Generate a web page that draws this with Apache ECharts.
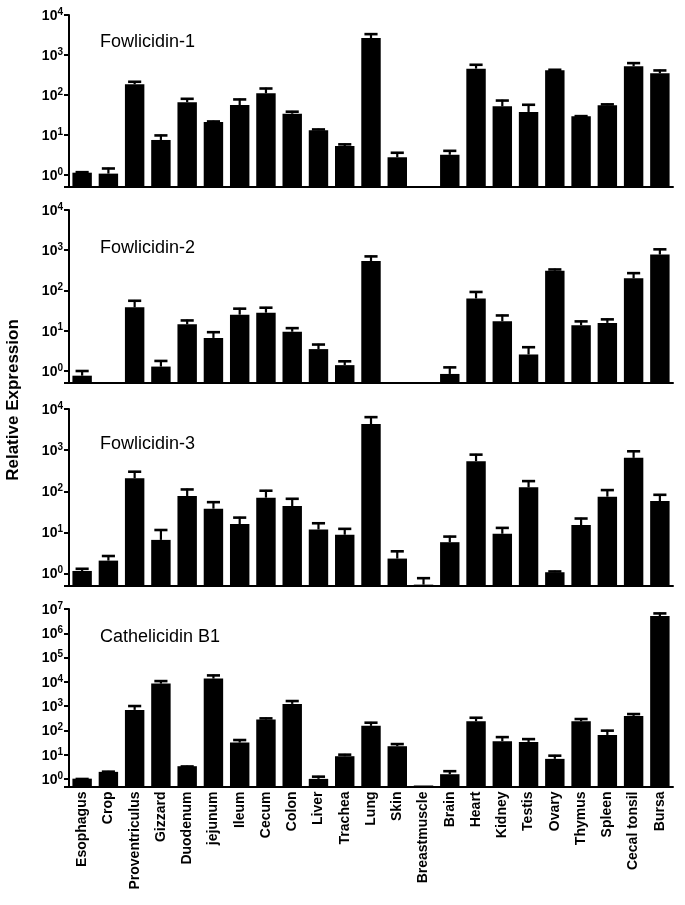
<!DOCTYPE html>
<html><head><meta charset="utf-8">
<script src="https://cdn.jsdelivr.net/npm/echarts/dist/echarts.min.js"></script>
<style>html,body{margin:0;padding:0;background:#fff}#c{width:685px;height:905px}</style>
</head><body><div id="c"></div>
<script>
// ---- data ----
const categories = ['Esophagus','Crop','Proventriculus','Gizzard','Duodenum','jejunum','Ileum','Cecum','Colon','Liver','Trachea','Lung','Skin','Breastmuscle','Brain','Heart','Kidney','Testis','Ovary','Thymus','Spleen','Cecal tonsil','Bursa'];
const panelTitles = ['Fowlicidin-1','Fowlicidin-2','Fowlicidin-3','Cathelicidin B1'];
const yAxisTitle = 'Relative Expression';

// mean values
const fowlicidin1 = [1.14,1.08,185,7.5,66,21,56,110,34,13.1,5.3,2660,2.77,null,3.2,455,52,37.6,414,29.3,55,521,348];
const fowlicidin2 = [0.76,null,38,1.28,14.4,6.6,25,28,9.4,3.48,1.39,541,null,null,0.84,63,17.1,2.56,310,13.6,15.6,200,779];
const fowlicidin3 = [1.16,2.07,207,6.6,77,37.8,16,70,43.9,11.8,8.8,4300,2.32,0.54,5.8,540,9.3,125,1.08,15.1,74,650,58];
const cathelicidinB1 = [1.05,2.0,708,8540,3.42,13700,32,283,1250,1.03,8.8,156,22.7,0.55,1.6,241,36.5,34,6.85,241,66,400,5100000];
// upper end of error bars (mean + SEM)
const fowlicidin1Upper = [1.23,1.52,224,10.2,84,22.8,81,152,40,14.4,6.1,3480,3.76,null,4.2,596,76,59.6,447,31,61,656,430];
const fowlicidin2Upper = [1.04,null,58,1.85,18.8,9.6,36.9,39,12.1,4.73,1.81,735,null,null,1.28,96,25,4.06,348,17.8,20,282,1101];
const fowlicidin3Upper = [1.37,2.8,313,12,116,57,24,108,68.8,17.5,12.8,6630,3.64,0.81,8.3,814,13.5,185,1.18,22.8,112,982,86];
const cathelicidinB1Upper = [1.1,2.2,1100,11700,3.6,20000,44,342,1766,1.37,11,227,30,null,2.3,363,58,48,10,321,107,515,7100000];

const yMax = [1e4, 1e4, 1e4, 1e7];
const yMin = 0.5;

const means = [fowlicidin1, fowlicidin2, fowlicidin3, cathelicidinB1];
const uppers = [fowlicidin1Upper, fowlicidin2Upper, fowlicidin3Upper, cathelicidinB1Upper];

// ---- layout ----
const FONT = '"Liberation Sans", Arial, Helvetica, sans-serif';
const grids = [
  {left: 69, right: 12, top: 15, height: 172},
  {left: 69, right: 12, top: 210, height: 173},
  {left: 69, right: 12, top: 409, height: 177},
  {left: 69, right: 12, top: 609, height: 177.5}
];
const titleTops = [33, 239, 435, 628];

function renderBar(params, api) {
  const v = api.value(1), u = api.value(2);
  const cs = params.coordSys;
  const base = cs.y + cs.height;
  const band = api.size([1, 1])[0];
  const w = band * 0.74;
  const children = [];
  if (!isNaN(v) && v > 0) {
    const p = api.coord([api.value(0), v]);
    children.push({type: 'rect', shape: {x: p[0] - w / 2, y: p[1], width: w, height: Math.max(0, base - p[1])}, style: {fill: '#000'}});
    if (!isNaN(u) && u > v) {
      const q = api.coord([api.value(0), u]);
      children.push({type: 'rect', shape: {x: p[0] - 1.1, y: q[1], width: 2.2, height: p[1] - q[1]}, style: {fill: '#000'}});
      children.push({type: 'rect', shape: {x: p[0] - band * 0.25, y: q[1] - 0.5, width: band * 0.5, height: 2.6}, style: {fill: '#000'}});
    }
  }
  return {type: 'group', children: children};
}

function powLabel(v) {
  const e = Math.log10(v);
  const r = Math.round(e);
  if (Math.abs(e - r) > 1e-6) return '';
  return '{b|10}{s|' + r + '}';
}

const option = {
  animation: false,
  backgroundColor: '#fff',
  textStyle: {fontFamily: FONT},
  grid: grids,
  title: panelTitles.map((t, i) => ({
    text: t, left: 100, top: titleTops[i], padding: 0,
    textStyle: {fontFamily: FONT, fontSize: 18, fontWeight: 'normal', color: '#000'}
  })),
  graphic: [{
    type: 'text', x: 13, y: 400, rotation: Math.PI / 2,
    style: {text: yAxisTitle, font: 'bold 17px ' + FONT, fill: '#000', align: 'center', verticalAlign: 'middle'}
  }],
  xAxis: grids.map((g, i) => ({
    type: 'category', gridIndex: i, data: categories, boundaryGap: true,
    axisLine: {show: true, onZero: false, lineStyle: {color: '#000', width: 2}},
    axisTick: {show: false},
    splitLine: {show: false},
    axisLabel: i === 3 ? {
      show: true, interval: 0, rotate: 90, margin: 5,
      fontFamily: FONT, fontSize: 14, fontWeight: 'bold', color: '#000'
    } : {show: false}
  })),
  yAxis: grids.map((g, i) => ({
    type: 'log', logBase: 10, gridIndex: i, min: yMin, max: yMax[i],
    axisLine: {show: true, lineStyle: {color: '#000', width: 2}},
    axisTick: {show: true, length: 5, lineStyle: {color: '#000', width: 2}},
    splitLine: {show: false},
    axisLabel: {
      show: true, margin: 6, formatter: powLabel,
      rich: {
        b: {fontFamily: FONT, fontSize: 14, fontWeight: 'bold', color: '#000', lineHeight: 16, verticalAlign: 'bottom'},
        s: {fontFamily: FONT, fontSize: 10, fontWeight: 'bold', color: '#000', lineHeight: 12, verticalAlign: 'top'}
      }
    }
  })),
  series: means.map((m, i) => ({
    type: 'custom', xAxisIndex: i, yAxisIndex: i,
    renderItem: renderBar,
    encode: {x: 0, y: [1, 2]},
    data: categories.map((c, k) => [k, m[k] == null ? '-' : m[k], uppers[i][k] == null ? '-' : uppers[i][k]])
  }))
};

const chart = echarts.init(document.getElementById('c'), null, {renderer: 'canvas'});
chart.setOption(option);
</script>
</body></html>
